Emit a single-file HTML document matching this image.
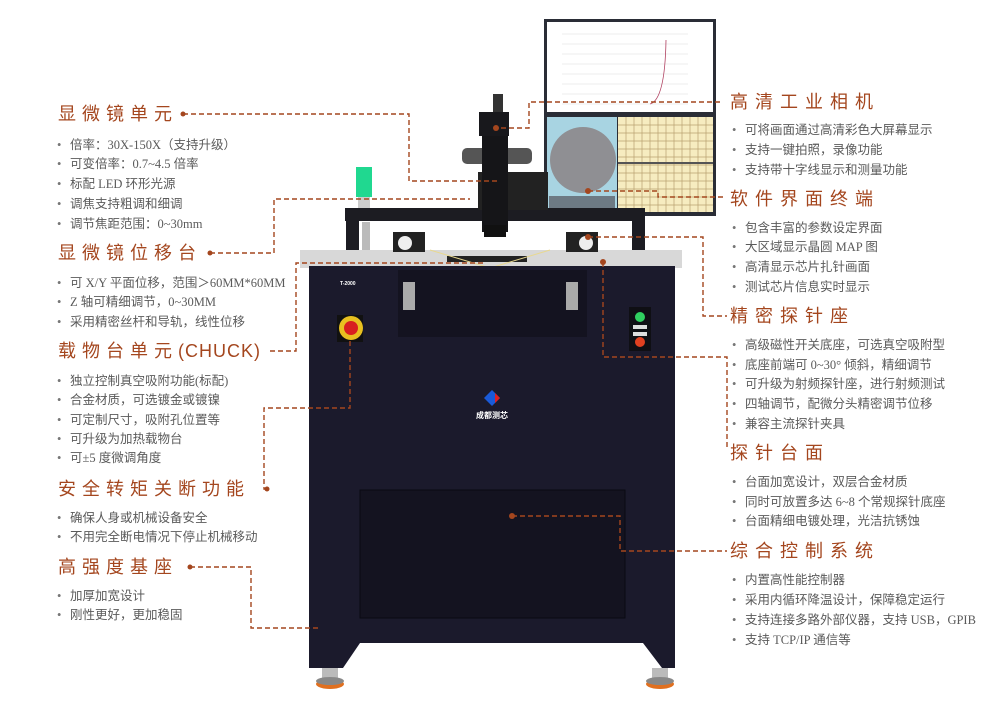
<!DOCTYPE html>
<html><head><meta charset="utf-8"><style>
body{margin:0;background:#fff}
#w{position:relative;width:1000px;height:708px;overflow:hidden;background:#fff;font-family:"Liberation Serif","Noto Sans CJK SC",sans-serif}
.h{position:absolute;color:#a4461e;font-size:18px;letter-spacing:6px;line-height:20px;white-space:nowrap;font-family:"Liberation Sans","Noto Sans CJK SC",sans-serif}
.b{position:absolute;color:#5a5a5a;font-size:12.5px;line-height:14px;white-space:nowrap;font-family:"Liberation Serif","Noto Sans CJK SC",sans-serif}
.b:before{content:"•";position:absolute;left:-13px;color:#777}
</style></head><body><div id="w">
<svg width="1000" height="708" style="position:absolute;left:0;top:0">
<rect x="544" y="19" width="172" height="197" fill="#2a2d36"/>
<rect x="547" y="22" width="166" height="90" fill="#fff"/>
<g stroke="#ddd" stroke-width="0.6"><line x1="562" y1="34" x2="688" y2="34"/><line x1="562" y1="44" x2="688" y2="44"/><line x1="562" y1="54" x2="688" y2="54"/><line x1="562" y1="64" x2="688" y2="64"/><line x1="562" y1="74" x2="688" y2="74"/><line x1="562" y1="84" x2="688" y2="84"/><line x1="562" y1="94" x2="688" y2="94"/><line x1="562" y1="104" x2="688" y2="104"/></g>
<path d="M650 104 Q665 100 666 40" stroke="#b04060" fill="none" stroke-width="0.8"/>
<rect x="547" y="117" width="70" height="95" fill="#a8d4e2"/>
<circle cx="583" cy="160" r="33" fill="#8f8f93"/>
<rect x="549" y="196" width="66" height="14" fill="#6d7a84"/>
<rect x="618" y="117" width="95" height="95" fill="#f6ecc0"/>
<g stroke="#b8a070" stroke-width="0.7">
<line x1="626" y1="117" x2="626" y2="212"/><line x1="634" y1="117" x2="634" y2="212"/><line x1="642" y1="117" x2="642" y2="212"/><line x1="650" y1="117" x2="650" y2="212"/><line x1="658" y1="117" x2="658" y2="212"/><line x1="666" y1="117" x2="666" y2="212"/><line x1="674" y1="117" x2="674" y2="212"/><line x1="682" y1="117" x2="682" y2="212"/><line x1="690" y1="117" x2="690" y2="212"/><line x1="698" y1="117" x2="698" y2="212"/><line x1="706" y1="117" x2="706" y2="212"/>
<line x1="618" y1="125" x2="713" y2="125"/><line x1="618" y1="133" x2="713" y2="133"/><line x1="618" y1="141" x2="713" y2="141"/><line x1="618" y1="149" x2="713" y2="149"/><line x1="618" y1="157" x2="713" y2="157"/><line x1="618" y1="165" x2="713" y2="165"/><line x1="618" y1="173" x2="713" y2="173"/><line x1="618" y1="181" x2="713" y2="181"/><line x1="618" y1="189" x2="713" y2="189"/><line x1="618" y1="197" x2="713" y2="197"/><line x1="618" y1="205" x2="713" y2="205"/></g>
<line x1="618" y1="163" x2="713" y2="163" stroke="#555" stroke-width="2"/>
<rect x="356" y="167" width="16" height="30" fill="#20d890"/>
<rect x="358" y="197" width="12" height="12" fill="#ccc"/>
<rect x="345" y="208" width="300" height="13" fill="#1c1c22"/>
<rect x="346" y="221" width="13" height="32" fill="#1c1c22"/>
<rect x="632" y="221" width="13" height="32" fill="#1c1c22"/>
<rect x="362" y="222" width="8" height="28" fill="#bbb"/>
<rect x="478" y="172" width="70" height="38" fill="#222"/>
<rect x="462" y="148" width="70" height="16" rx="5" fill="#555"/>
<rect x="482" y="130" width="26" height="102" fill="#151518"/>
<rect x="479" y="112" width="30" height="24" fill="#18181c"/>
<rect x="493" y="94" width="10" height="18" fill="#333"/>
<rect x="484" y="225" width="22" height="12" fill="#111"/>
<rect x="300" y="250" width="382" height="18" fill="#d8d8d8"/>
<rect x="447" y="256" width="80" height="6" fill="#222"/>
<path d="M430 250 L490 268 L550 250" stroke="#e8d890" fill="none"/>
<rect x="393" y="232" width="32" height="20" fill="#222"/><circle cx="405" cy="243" r="7" fill="#eee"/>
<rect x="566" y="232" width="32" height="20" fill="#222"/><circle cx="586" cy="243" r="7" fill="#eee"/>
<path d="M309 266 H675 V668 H662 L643 643 H360 L343 668 H309 Z" fill="#1b1a2c"/>
<rect x="398" y="270" width="189" height="67" fill="#141320"/>
<rect x="403" y="282" width="12" height="28" fill="#aaa"/><rect x="566" y="282" width="12" height="28" fill="#aaa"/>
<rect x="360" y="490" width="265" height="128" fill="#141320" stroke="#0a0a12"/>
<rect x="337" y="315" width="26" height="27" fill="#111"/>
<circle cx="351" cy="328" r="12" fill="#e8c020"/><circle cx="351" cy="328" r="7" fill="#d82020"/>
<rect x="629" y="307" width="22" height="44" fill="#0f0f14"/>
<circle cx="640" cy="317" r="5" fill="#30d060"/><rect x="633" y="325" width="14" height="4" fill="#ddd"/><rect x="633" y="332" width="14" height="4" fill="#ddd"/><circle cx="640" cy="342" r="5" fill="#e04020"/>
<path d="M492 390 L500 398 L492 406 L484 398 Z" fill="#1a5ad8"/><path d="M495 393 L500 398 L495 403 Z" fill="#e02020"/>
<text x="492" y="418" font-size="8" fill="#fff" text-anchor="middle" font-family="Noto Sans CJK SC,sans-serif" font-weight="bold">成都测芯</text>
<text x="340" y="285" font-size="5" fill="#fff" font-family="Liberation Sans,sans-serif" font-weight="bold">T-2000</text>
<rect x="322" y="668" width="16" height="12" fill="#bbb"/><ellipse cx="330" cy="684" rx="14" ry="5" fill="#e07020"/><ellipse cx="330" cy="681" rx="14" ry="4" fill="#888"/>
<rect x="652" y="668" width="16" height="12" fill="#bbb"/><ellipse cx="660" cy="684" rx="14" ry="5" fill="#e07020"/><ellipse cx="660" cy="681" rx="14" ry="4" fill="#888"/>
<g stroke="#a4461e" stroke-width="1.4" fill="none" stroke-dasharray="5,3">
<path d="M183 114 H409 V181 H497"/>
<path d="M210 253 H274 V199 H470"/>
<path d="M720 102 H529 V128 H496"/>
<path d="M588 191 H658 V197 H725"/>
<path d="M270 351 H296 V263 H484"/>
<path d="M588 237 H703 V316 H727"/>
<path d="M603 262 V357 H727 V450"/>
<path d="M267 489 H264 V408 H350 V340"/>
<path d="M190 567 H251 V628 H320"/>
<path d="M512 516 H620 V551 H727"/>
</g>
<g fill="#a4461e"><circle cx="183" cy="114" r="2.5"/><circle cx="210" cy="253" r="2.5"/><circle cx="496" cy="128" r="3"/><circle cx="588" cy="191" r="3"/><circle cx="588" cy="237" r="3"/><circle cx="603" cy="262" r="3"/><circle cx="267" cy="489" r="2.5"/><circle cx="190" cy="567" r="2.5"/><circle cx="512" cy="516" r="3"/></g>
</svg>
<div class="h" style="left:58px;top:104px">显微镜单元</div>
<div class="b" style="left:70px;top:138px">倍率：30X-150X（支持升级）</div>
<div class="b" style="left:70px;top:157px">可变倍率：0.7~4.5 倍率</div>
<div class="b" style="left:70px;top:177px">标配 LED 环形光源</div>
<div class="b" style="left:70px;top:197px">调焦支持粗调和细调</div>
<div class="b" style="left:70px;top:217px">调节焦距范围：0~30mm</div>
<div class="h" style="left:58px;top:243px">显微镜位移台</div>
<div class="b" style="left:70px;top:276px">可 X/Y 平面位移，范围＞60MM*60MM</div>
<div class="b" style="left:70px;top:295px">Z 轴可精细调节，0~30MM</div>
<div class="b" style="left:70px;top:315px">采用精密丝杆和导轨，线性位移</div>
<div class="h" style="left:58px;top:341px">载物台单元<span style="letter-spacing:1px">(CHUCK)</span></div>
<div class="b" style="left:70px;top:374px">独立控制真空吸附功能(标配)</div>
<div class="b" style="left:70px;top:393px">合金材质，可选镀金或镀镍</div>
<div class="b" style="left:70px;top:413px">可定制尺寸，吸附孔位置等</div>
<div class="b" style="left:70px;top:432px">可升级为加热载物台</div>
<div class="b" style="left:70px;top:451px">可±5 度微调角度</div>
<div class="h" style="left:58px;top:479px">安全转矩关断功能</div>
<div class="b" style="left:70px;top:511px">确保人身或机械设备安全</div>
<div class="b" style="left:70px;top:530px">不用完全断电情况下停止机械移动</div>
<div class="h" style="left:58px;top:557px">高强度基座</div>
<div class="b" style="left:70px;top:589px">加厚加宽设计</div>
<div class="b" style="left:70px;top:608px">刚性更好，更加稳固</div>
<div class="h" style="left:730px;top:92px;letter-spacing:7px">高清工业相机</div>
<div class="b" style="left:745px;top:123px">可将画面通过高清彩色大屏幕显示</div>
<div class="b" style="left:745px;top:143px">支持一键拍照，录像功能</div>
<div class="b" style="left:745px;top:163px">支持带十字线显示和测量功能</div>
<div class="h" style="left:730px;top:189px;letter-spacing:7px">软件界面终端</div>
<div class="b" style="left:745px;top:221px">包含丰富的参数设定界面</div>
<div class="b" style="left:745px;top:240px">大区域显示晶圆 MAP 图</div>
<div class="b" style="left:745px;top:260px">高清显示芯片扎针画面</div>
<div class="b" style="left:745px;top:280px">测试芯片信息实时显示</div>
<div class="h" style="left:730px;top:306px;letter-spacing:7px">精密探针座</div>
<div class="b" style="left:745px;top:338px">高级磁性开关底座，可选真空吸附型</div>
<div class="b" style="left:745px;top:358px">底座前端可 0~30° 倾斜，精细调节</div>
<div class="b" style="left:745px;top:377px">可升级为射频探针座，进行射频测试</div>
<div class="b" style="left:745px;top:397px">四轴调节，配微分头精密调节位移</div>
<div class="b" style="left:745px;top:417px">兼容主流探针夹具</div>
<div class="h" style="left:730px;top:443px;letter-spacing:7px">探针台面</div>
<div class="b" style="left:745px;top:475px">台面加宽设计，双层合金材质</div>
<div class="b" style="left:745px;top:495px">同时可放置多达 6~8 个常规探针底座</div>
<div class="b" style="left:745px;top:514px">台面精细电镀处理，光洁抗锈蚀</div>
<div class="h" style="left:730px;top:541px;letter-spacing:7px">综合控制系统</div>
<div class="b" style="left:745px;top:573px">内置高性能控制器</div>
<div class="b" style="left:745px;top:593px">采用内循环降温设计，保障稳定运行</div>
<div class="b" style="left:745px;top:613px">支持连接多路外部仪器，支持 USB，GPIB</div>
<div class="b" style="left:745px;top:633px">支持 TCP/IP 通信等</div>
</div></body></html>
